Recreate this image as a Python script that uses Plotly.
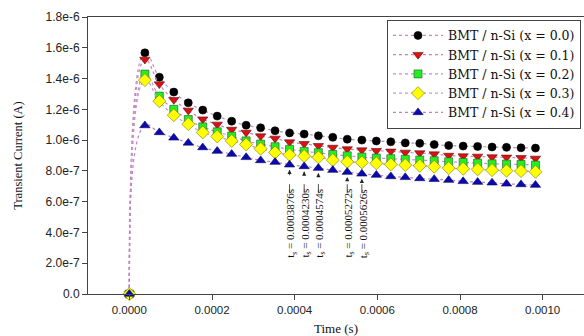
import plotly.graph_objects as go

# ---- data ----
time_s = [0.0, 0.0000376, 0.0000726, 0.0001076, 0.0001426, 0.0001776, 0.0002126,
          0.0002476, 0.0002826, 0.0003176, 0.0003526, 0.0003876, 0.0004230,
          0.0004574, 0.0004922, 0.0005272, 0.0005626, 0.0005976, 0.0006326,
          0.0006676, 0.0007026, 0.0007376, 0.0007726, 0.0008076, 0.0008426,
          0.0008776, 0.0009126, 0.0009476, 0.0009826]

i_x00 = [0.0, 1.567, 1.409, 1.312, 1.242, 1.195, 1.156, 1.123, 1.097, 1.080, 1.061,
         1.047, 1.039, 1.028, 1.018, 1.006, 1.000, 0.994, 0.989, 0.982, 0.979,
         0.971, 0.965, 0.961, 0.959, 0.955, 0.953, 0.950, 0.948]
i_x01 = [0.0, 1.524, 1.364, 1.262, 1.193, 1.136, 1.102, 1.069, 1.050, 1.026, 1.011,
         0.987, 0.976, 0.963, 0.952, 0.942, 0.935, 0.931, 0.927, 0.920, 0.916,
         0.909, 0.900, 0.896, 0.894, 0.890, 0.888, 0.885, 0.881]
i_x02 = [0.0, 1.429, 1.286, 1.200, 1.134, 1.086, 1.054, 1.026, 0.995, 0.974, 0.957,
         0.940, 0.927, 0.918, 0.907, 0.898, 0.890, 0.883, 0.879, 0.875, 0.870,
         0.866, 0.859, 0.855, 0.851, 0.846, 0.844, 0.842, 0.838]
i_x03 = [0.0, 1.390, 1.253, 1.162, 1.104, 1.050, 1.024, 0.995, 0.972, 0.944, 0.920,
         0.905, 0.896, 0.888, 0.870, 0.859, 0.855, 0.849, 0.842, 0.838, 0.833,
         0.827, 0.818, 0.814, 0.810, 0.805, 0.801, 0.799, 0.794]
i_x04 = [0.0, 1.095, 1.050, 1.015, 0.982, 0.952, 0.929, 0.909, 0.888, 0.868, 0.857,
         0.840, 0.829, 0.818, 0.805, 0.792, 0.781, 0.773, 0.764, 0.758, 0.751,
         0.746, 0.740, 0.732, 0.727, 0.723, 0.716, 0.712, 0.708]

series_names = ["BMT / n-Si (x = 0.0)", "BMT / n-Si (x = 0.1)", "BMT / n-Si (x = 0.2)",
                "BMT / n-Si (x = 0.3)", "BMT / n-Si (x = 0.4)"]

# annotated transit times (index into time_s / blue series)
marked_idx = [11, 12, 13, 15, 16]
marked_labels = ["0.0003876s", "0.0004230s", "0.0004574s", "0.0005272s", "0.0005626s"]

y_tickvals = [0, 2e-7, 4e-7, 6e-7, 8e-7, 1e-6, 1.2e-6, 1.4e-6, 1.6e-6, 1.8e-6]
y_ticktext = ["0.0", "2.0e-7", "4.0e-7", "6.0e-7", "8.0e-7", "1.0e-6", "1.2e-6",
              "1.4e-6", "1.6e-6", "1.8e-6"]
x_tickvals = [0.0, 0.0002, 0.0004, 0.0006, 0.0008, 0.0010]
x_ticktext = ["0.0000", "0.0002", "0.0004", "0.0006", "0.0008", "0.0010"]

# ---- styles ----
styles = [
    dict(symbol="circle", color="#000000", size=8, lc="#000000"),
    dict(symbol="triangle-down", color="#dd1111", size=9, lc="#551111"),
    dict(symbol="square", color="#22ee22", size=8, lc="#225522"),
    dict(symbol="diamond", color="#ffff00", size=10, lc="#777700"),
    dict(symbol="triangle-up", color="#0a0ab0", size=9, lc="#0a0a60"),
]
line_colors = ["#b890c0", "#d080b0", "#c090c8", "#c898c8", "#c080c8"]

fig = go.Figure()
for name, vals, st, lc in zip(series_names, [i_x00, i_x01, i_x02, i_x03, i_x04], styles, line_colors):
    fig.add_trace(go.Scatter(
        x=time_s, y=[v * 1e-6 for v in vals], name=name,
        mode="lines+markers",
        line=dict(color=lc, width=1.2, dash="dot", shape="spline", smoothing=1.3),
        marker=dict(symbol=st["symbol"], color=st["color"], size=st["size"],
                    line=dict(color=st["lc"], width=0.6)),
        cliponaxis=False,
    ))

text_font = dict(family="Liberation Serif, Times New Roman, serif", size=11, color="#111")
for idx, lab in zip(marked_idx, marked_labels):
    xv = time_s[idx]
    yv = i_x04[idx] * 1e-6
    # dashed leader from the label up to the point
    fig.add_shape(type="line", x0=xv, x1=xv, y0=0.655e-6, y1=yv - 0.035e-6,
                  line=dict(color="#222", width=0.8, dash="dash"))
    # open arrow head at the point
    fig.add_annotation(x=xv, y=yv, ax=0, ay=8, text="", showarrow=True,
                       arrowhead=2, arrowsize=1.2, arrowwidth=0.7, arrowcolor="#222",
                       standoff=5)
    fig.add_annotation(x=xv, y=0.44e-6, yshift=3, text="t<sub>s</sub> = " + lab,
                       showarrow=False, textangle=-90, xshift=2, font=text_font)

fig.update_layout(
    width=584, height=336,
    margin=dict(l=88, r=0, t=17, b=42),
    paper_bgcolor="white", plot_bgcolor="white",
    showlegend=True,
    legend=dict(x=0.994, y=0.99, xanchor="right", yanchor="top",
                bordercolor="#444", borderwidth=1, bgcolor="white",
                font=dict(family="DejaVu Serif, serif", size=12.5, color="#111"),
                itemwidth=50, tracegroupgap=0),
    font=dict(family="Liberation Sans, Arial, sans-serif", color="#222"),
)
fig.update_xaxes(range=[-0.0001, 0.0011], showgrid=False, zeroline=False,
                 showline=True, linecolor="#444", linewidth=1, mirror=True,
                 ticks="outside", ticklen=5, tickcolor="#444",
                 tickvals=x_tickvals, ticktext=x_ticktext,
                 tickfont=dict(size=11.5, color="#222"),
                 title=dict(text="Time (s)", standoff=9,
                            font=dict(family="Liberation Serif, Times New Roman, serif", size=13, color="#111")))
fig.update_yaxes(range=[0, 1.8e-6], showgrid=False, zeroline=False,
                 showline=True, linecolor="#444", linewidth=1, mirror=True,
                 ticks="outside", ticklen=5, tickcolor="#444",
                 tickvals=y_tickvals, ticktext=y_ticktext,
                 tickfont=dict(size=12, color="#222"),
                 title=dict(text="Transient Current (A)", standoff=20,
                            font=dict(family="Liberation Serif, Times New Roman, serif", size=12.5, color="#111")))

fig.write_html("out.html")
